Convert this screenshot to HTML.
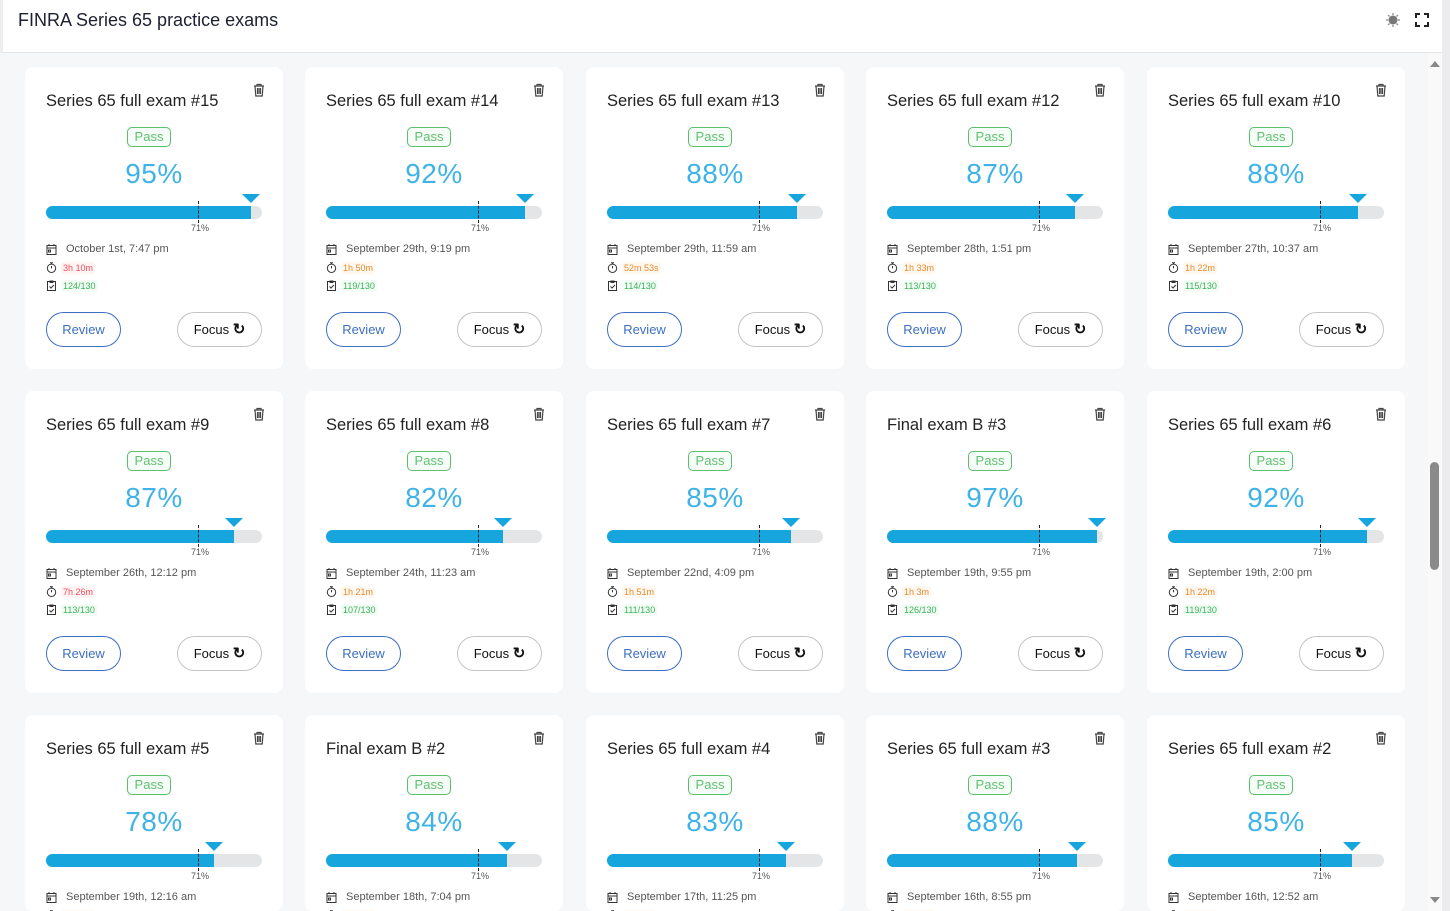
<!DOCTYPE html>
<html style="width:1450px;height:911px;overflow:hidden"><head><meta charset="utf-8">
<style>
*{box-sizing:border-box;margin:0;padding:0}
body{width:1450px;height:911px;overflow:hidden;background:#f6f7f9;font-family:"Liberation Sans",sans-serif}
#wrap{position:relative;width:1450px;height:911px;overflow:hidden;background:#f6f7f9}
.hdr{position:absolute;left:0;top:0;width:1442px;height:53px;background:#fff;border-bottom:1px solid #e3e5e8;border-left:3px solid #eceef0}
.hdr h1{position:absolute;left:15px;top:10px;font-size:18px;font-weight:normal;color:#1d2030}
.strip{position:absolute;left:1442px;top:0;width:8px;height:911px;background:#ececee}
.sb{position:absolute;left:1428px;top:53px;width:14px;height:858px;background:#f9f9fa}
.thumb{position:absolute;left:1430px;top:462px;width:9px;height:108px;border-radius:5px;background:#8a8a8a}
.card{position:absolute;width:258px;height:302px;background:#fff;border-radius:8px;overflow:hidden}
.t{position:absolute;left:21px;top:25px;font-size:16.5px;color:#222}
.trash{position:absolute;left:228px;top:16px;width:12px;height:14px}
.pass{position:absolute;left:102px;top:60px;width:44px;height:20px;border:1px solid #5cbf6e;border-radius:5px;color:#62c073;font-size:13px;text-align:center;line-height:18px;background:#f6fcf7}
.pct{position:absolute;left:0;width:258px;text-align:center;top:91px;font-size:28px;color:#3fb3e6;letter-spacing:0.5px}
.track{position:absolute;left:21px;top:139px;width:216px;height:13px;border-radius:7px;background:#e4e5e7;overflow:hidden}
.fill{height:13px;background:#16a5dd}
.tri{position:absolute;top:127px;width:0;height:0;border-left:9px solid transparent;border-right:9px solid transparent;border-top:9px solid #16a5dd}
.dash{position:absolute;left:173px;top:134px;height:22px;border-left:1px dashed #222}
.l71{position:absolute;left:166px;top:156px;font-size:9px;color:#555}
.ic{position:absolute;left:21px;width:11px;height:11px}
.date{position:absolute;left:41px;top:176px;font-size:11px;color:#555}
.pill{position:absolute;left:36px;font-size:9px;padding:1px 2px;border-radius:3px}
.btn{position:absolute;top:245px;height:35px;border-radius:18px;font-size:13px;text-align:center;line-height:33px}
.rev{left:21px;width:75px;border:1px solid #3d6fc2;color:#3d6fc2}
.foc{left:152px;width:85px;border:1px solid #c4c4c4;color:#111}
</style></head><body>
<div id="wrap">
<div class="hdr"><h1>FINRA Series 65 practice exams</h1>
<svg style="position:absolute;left:1382px;top:12px" width="16" height="16" viewBox="0 0 16 16"><circle cx="8" cy="8" r="4.5" fill="#777"/><g stroke="#999" stroke-width="1.5"><line x1="8" y1="1" x2="8" y2="3"/><line x1="8" y1="13" x2="8" y2="15"/><line x1="1" y1="8" x2="3" y2="8"/><line x1="13" y1="8" x2="15" y2="8"/><line x1="3" y1="3" x2="4.5" y2="4.5"/><line x1="11.5" y1="11.5" x2="13" y2="13"/><line x1="3" y1="13" x2="4.5" y2="11.5"/><line x1="11.5" y1="4.5" x2="13" y2="3"/></g></svg>
<svg style="position:absolute;left:1412px;top:13px" width="14" height="14" viewBox="0 0 14 14" fill="none" stroke="#222" stroke-width="2"><path d="M1 5V1h4M9 1h4v4M13 9v4H9M5 13H1V9"/></svg>
</div>
<div id="g"></div>
<div class="sb"></div><div class="thumb"></div><div class="strip"></div>
<svg style="position:absolute;left:1430px;top:60px" width="10" height="8"><path d="M0 7L5 1L10 7Z" fill="#888"/></svg>
<svg style="position:absolute;left:1430px;top:896px" width="10" height="8"><path d="M0 1L5 7L10 1Z" fill="#888"/></svg>
</div>
<script>
var d=[
["Series 65 full exam #15",95,"October 1st, 7:47 pm","3h 10m","r","124/130"],
["Series 65 full exam #14",92,"September 29th, 9:19 pm","1h 50m","o","119/130"],
["Series 65 full exam #13",88,"September 29th, 11:59 am","52m 53s","o","114/130"],
["Series 65 full exam #12",87,"September 28th, 1:51 pm","1h 33m","o","113/130"],
["Series 65 full exam #10",88,"September 27th, 10:37 am","1h 22m","o","115/130"],
["Series 65 full exam #9",87,"September 26th, 12:12 pm","7h 26m","r","113/130"],
["Series 65 full exam #8",82,"September 24th, 11:23 am","1h 21m","o","107/130"],
["Series 65 full exam #7",85,"September 22nd, 4:09 pm","1h 51m","o","111/130"],
["Final exam B #3",97,"September 19th, 9:55 pm","1h 3m","o","126/130"],
["Series 65 full exam #6",92,"September 19th, 2:00 pm","1h 22m","o","119/130"],
["Series 65 full exam #5",78,"September 19th, 12:16 am","1h 20m","o","101/130"],
["Final exam B #2",84,"September 18th, 7:04 pm","1h 20m","o","109/130"],
["Series 65 full exam #4",83,"September 17th, 11:25 pm","1h 20m","o","108/130"],
["Series 65 full exam #3",88,"September 16th, 8:55 pm","1h 20m","o","114/130"],
["Series 65 full exam #2",85,"September 16th, 12:52 am","1h 20m","o","111/130"]];
var xs=[25,305,586,866,1147],ys=[67,391,715],h="";
d.forEach(function(c,i){var x=xs[i%5],y=ys[Math.floor(i/5)],fw=Math.round(216*c[1]/100);
var ch=Math.min(302,911-y);
var tc=c[4]=="r"?"color:#ef4d5e;background:#fff3f4":"color:#e88a2c;background:#fff8f0";
h+='<div class="card" style="left:'+x+'px;top:'+y+'px;height:'+ch+'px">'+
'<div class="t">'+c[0]+'</div>'+
'<svg class="trash" viewBox="0 0 12 14" fill="none" stroke="#444" stroke-width="1.2"><path d="M1 3h10M4 3V1.5h4V3M2 3l.8 10h6.4L10 3M4.5 5v6M6 5v6M7.5 5v6"/></svg>'+
'<div class="pass">Pass</div><div class="pct">'+c[1]+'%</div>'+
'<div class="track"><div class="fill" style="width:'+fw+'px"></div></div>'+
'<div class="tri" style="left:'+(21+fw-9)+'px"></div>'+
'<div class="dash"></div><div class="l71">71%</div>'+
'<svg class="ic" style="top:177px" viewBox="0 0 11 11" fill="none" stroke="#333"><rect x="1" y="1.5" width="9" height="9"/><path d="M1 4h9M3 0v2M8 0v2"/><rect x="2.5" y="6" width="2" height="2"/></svg>'+
'<div class="date">'+c[2]+'</div>'+
'<svg class="ic" style="top:195px" viewBox="0 0 11 11" fill="none" stroke="#333"><circle cx="5.5" cy="6.3" r="4.2"/><path d="M4 0.7h3M5.5 1v1.2M5.5 6.3V4"/></svg>'+
'<div class="pill" style="top:195px;'+tc+'">'+c[3]+'</div>'+
'<svg class="ic" style="top:213px" viewBox="0 0 11 11" fill="none" stroke="#333"><rect x="1.5" y="1.5" width="8" height="9"/><path d="M4 1h3v1.5H4zM3.5 6.5l1.5 1.5 3-3"/></svg>'+
'<div class="pill" style="top:213px;color:#3cb45a;background:#f2fbf4">'+c[5]+'</div>'+
'<div class="btn rev">Review</div><div class="btn foc">Focus <span style="font-size:15px;font-weight:bold">&#x21BB;</span></div>'+
'</div>';});
document.getElementById("g").innerHTML=h;
</script>
</body></html>
